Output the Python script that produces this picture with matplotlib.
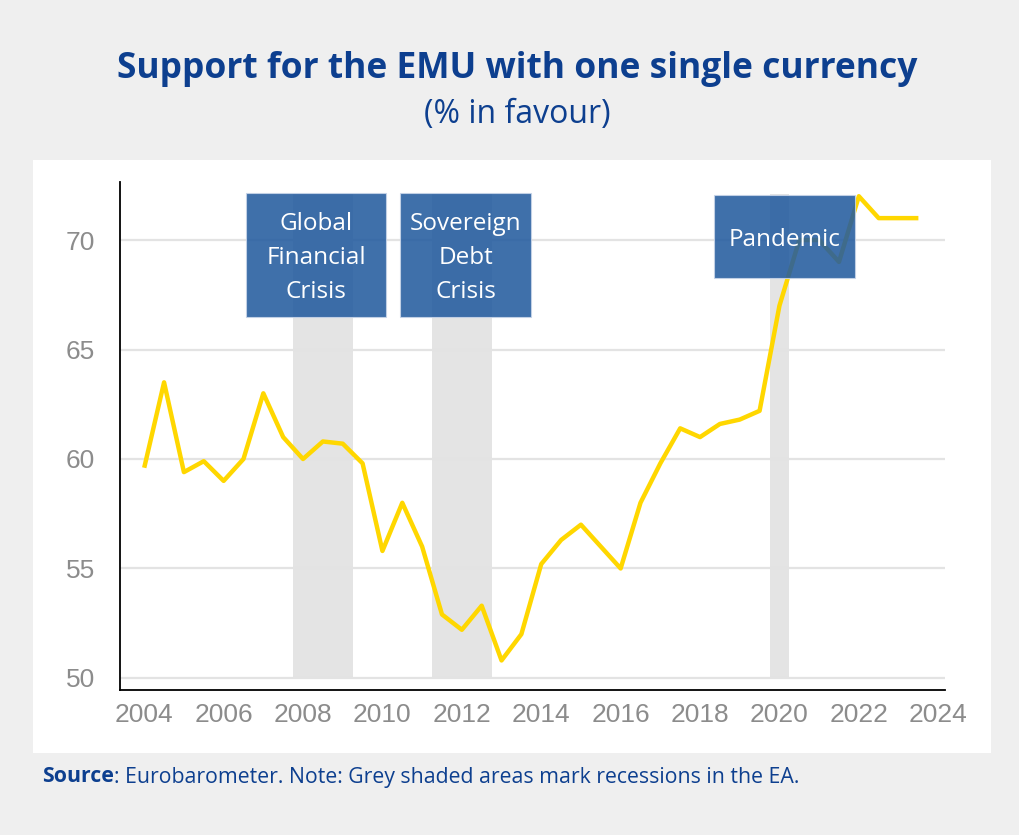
import matplotlib.pyplot as plt
from matplotlib.patches import Rectangle

# survey waves (half-year steps) and % in favour
waves = [2004.0, 2004.5, 2005.0, 2005.5, 2006.0, 2006.5, 2007.0, 2007.5,
         2008.0, 2008.5, 2009.0, 2009.5, 2010.0, 2010.5, 2011.0, 2011.5,
         2012.0, 2012.5, 2013.0, 2013.5, 2014.0, 2014.5, 2015.0, 2015.5,
         2016.0, 2016.5, 2017.0, 2017.5, 2018.0, 2018.5, 2019.0, 2019.5,
         2020.0, 2020.5, 2021.0, 2021.5, 2022.0, 2022.5, 2023.0, 2023.5]
support = [59.6, 63.5, 59.4, 59.9, 59.0, 60.0, 63.0, 61.0,
           60.0, 60.8, 60.7, 59.8, 55.8, 58.0, 56.0, 52.9,
           52.2, 53.3, 50.8, 52.0, 55.2, 56.3, 57.0, 56.0,
           55.0, 58.0, 59.8, 61.4, 61.0, 61.6, 61.8, 62.2,
           67.0, 70.0, 70.0, 69.0, 72.0, 71.0, 71.0, 71.0]

recessions = [(2007.75, 2009.25), (2011.25, 2012.75), (2019.75, 2020.25)]
labels = ['Global\nFinancial\nCrisis', 'Sovereign\nDebt\nCrisis', 'Pandemic']
# label boxes: x0, x1, y0, y1 in data units
boxes = [(2006.57, 2010.1, 66.5, 72.15),
         (2010.45, 2013.75, 66.5, 72.15),
         (2018.36, 2021.9, 68.26, 72.05)]

yticks = [50, 55, 60, 65, 70]
xticks = [2004, 2006, 2008, 2010, 2012, 2014, 2016, 2018, 2020, 2022, 2024]

blue = '#0d3f8f'
f = plt.figure(figsize=(10.19, 8.35), dpi=100, facecolor='#efefef')

# white panel behind the chart
f.patches.append(Rectangle((33 / 1019, 1 - 753 / 835), (991 - 33) / 1019, (753 - 160) / 835,
                           transform=f.transFigure, facecolor='white', edgecolor='none', zorder=-5))

ax = f.add_axes([120 / 1019, 1 - 690 / 835, (945 - 120) / 1019, (690 - 182) / 835])
ax.set_facecolor('none')
ax.set_xlim(2003.39, 2024.17)
ax.set_ylim(49.45, 72.65)

for x0, x1 in recessions:
    ax.fill_between([x0, x1], 50, 72.1, color='#e4e4e4', lw=0, zorder=1)

ax.set_yticks(yticks)
ax.set_xticks(xticks)
ax.grid(axis='y', color='#e3e3e3', lw=1.6, zorder=0.5)
ax.tick_params(length=0, labelsize=19, labelcolor='#8c8c8c', pad=9)
for lab in ax.get_xticklabels() + ax.get_yticklabels():
    lab.set_family('Liberation Sans')
ax.tick_params(axis='y', pad=18)

ax.plot(waves, support, color='#ffd700', lw=3.2, solid_capstyle='butt', solid_joinstyle='round', zorder=3)

for (x0, x1, y0, y1), text in zip(boxes, labels):
    ax.add_patch(Rectangle((x0, y0), x1 - x0, y1 - y0, facecolor='#245c9f', alpha=0.88,
                           edgecolor='#c7d4e8', lw=0.8, zorder=4))
    ax.text((x0 + x1) / 2, (y0 + y1) / 2 - 0.15, text, ha='center', va='center', color='white',
            fontsize=17.5, family='Open Sans', linespacing=1.55, zorder=5)

for side in ['top', 'right']:
    ax.spines[side].set_visible(False)
ax.spines['left'].set_linewidth(1.3)
ax.spines['bottom'].set_linewidth(1.3)

f.text(0.508, 1 - 69 / 835, 'Support for the EMU with one single currency', ha='center', va='center',
       fontsize=25.5, fontweight='bold', color=blue, family='Open Sans')
f.text(0.508, 1 - 115 / 835, '(% in favour)', ha='center', va='center',
       fontsize=23, color=blue, family='Open Sans')

src = f.text(42 / 1019, 1 - 777 / 835, 'Source', ha='left', va='center',
             fontsize=15.3, fontweight='bold', color=blue, family='Open Sans')
f.canvas.draw()
bb = src.get_window_extent()
f.text(bb.x1 / 1019, 1 - 777 / 835, ': Eurobarometer. Note: Grey shaded areas mark recessions in the EA.',
       ha='left', va='center', fontsize=15.3, color=blue, family='Open Sans')

f.savefig('out.png', dpi=100, facecolor=f.get_facecolor())
